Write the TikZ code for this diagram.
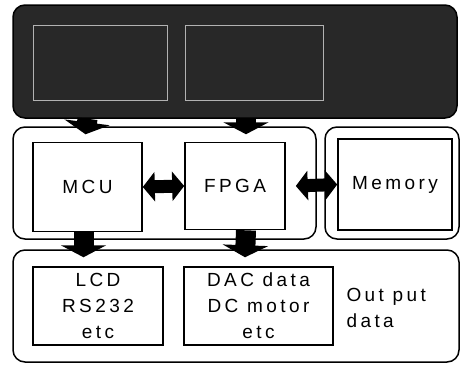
\documentclass[tikz,border=0pt]{standalone}
\usepackage{fontspec}
\usepackage{tikz}
\newfontfamily\boxfont[LetterSpace=18]{Liberation Sans}
\definecolor{scan}{RGB}{40,40,40}
\usetikzlibrary{arrows.meta,calc}

\begin{document}
\begin{tikzpicture}[x=1pt,y=-1pt,
	blk/.style={draw,line width=1.6pt,inner sep=0pt,align=center,font=\boxfont\fontsize{19}{26}\selectfont},
	grp/.style={draw,line width=1.5pt,rounded corners=12pt,inner sep=0pt},
	fatdown/.style={line width=20pt,-{Triangle[length=12pt,width=45pt]}},
	fatboth/.style={line width=13pt,{Triangle[length=12pt,width=29pt]}-{Triangle[length=12pt,width=29pt]}}]
\useasboundingbox (0,0) rectangle (460,365);
\pgfmathsetmacro{\rowa}{187}
\pgfmathsetmacro{\rowb}{306}
% scanned input block
\node[grp,fill=scan,minimum width=444pt,minimum height=113pt] (src) at (235,61.5) {};
\node[draw=gray!60,line width=1pt,minimum width=134pt,minimum height=75pt] (in1) at (100,62.5) {};
\node[draw=gray!60,line width=1pt,minimum width=138pt,minimum height=75pt] (in2) at (254,62.5) {};
% groups
\node[grp,minimum width=303pt,minimum height=112pt] (ctrl) at (164.5,183) {};
\node[grp,minimum width=134pt,minimum height=112pt] (memgrp) at (392,183) {};
\node[grp,minimum width=446pt,minimum height=112pt] (outgrp) at (236,306) {};
% blocks
\node[blk,minimum width=109pt,minimum height=89pt] (mcu) at (87.5,\rowa) {MCU};
\node[blk,minimum width=100pt,minimum height=87pt] (fpga) at (235,\rowa-1) {FPGA};
\node[blk,minimum width=114pt,minimum height=91pt] (mem) at (395,\rowa-2.5) {Memory};
\node[blk,minimum width=130pt,minimum height=78pt] (lcd) at (98,\rowb) {LCD\\RS232\\etc};
\node[blk,minimum width=149pt,minimum height=78pt] (dac) at (258.5,\rowb) {DAC data\\DC motor\\etc};
\node[align=left,anchor=west,font=\boxfont\fontsize{19}{26}\selectfont] (outtxt) at (343,\rowb+2) {Out put\\data};
\coordinate (col) at (246,0);
% arrows
\draw[fatdown] (src.south -| mcu) -- ($(ctrl.north -| mcu)+(-2,8)$);
\draw[fatdown] (src.south -| col) -- ($(ctrl.north -| col)+(0,8)$);
\draw[fatdown] ($(mcu.south)+(-4,0)$) -- ($(outgrp.north -| mcu)+(-4,8)$);
\draw[fatdown] (fpga.south -| col) -- ($(outgrp.north -| col)+(-1,8)$);
\draw[fatboth] (mcu.east) -- (fpga.west);
\draw[fatboth] ($(fpga.east)+(10,0)$) -- (mem.west);
\end{tikzpicture}
\end{document}
